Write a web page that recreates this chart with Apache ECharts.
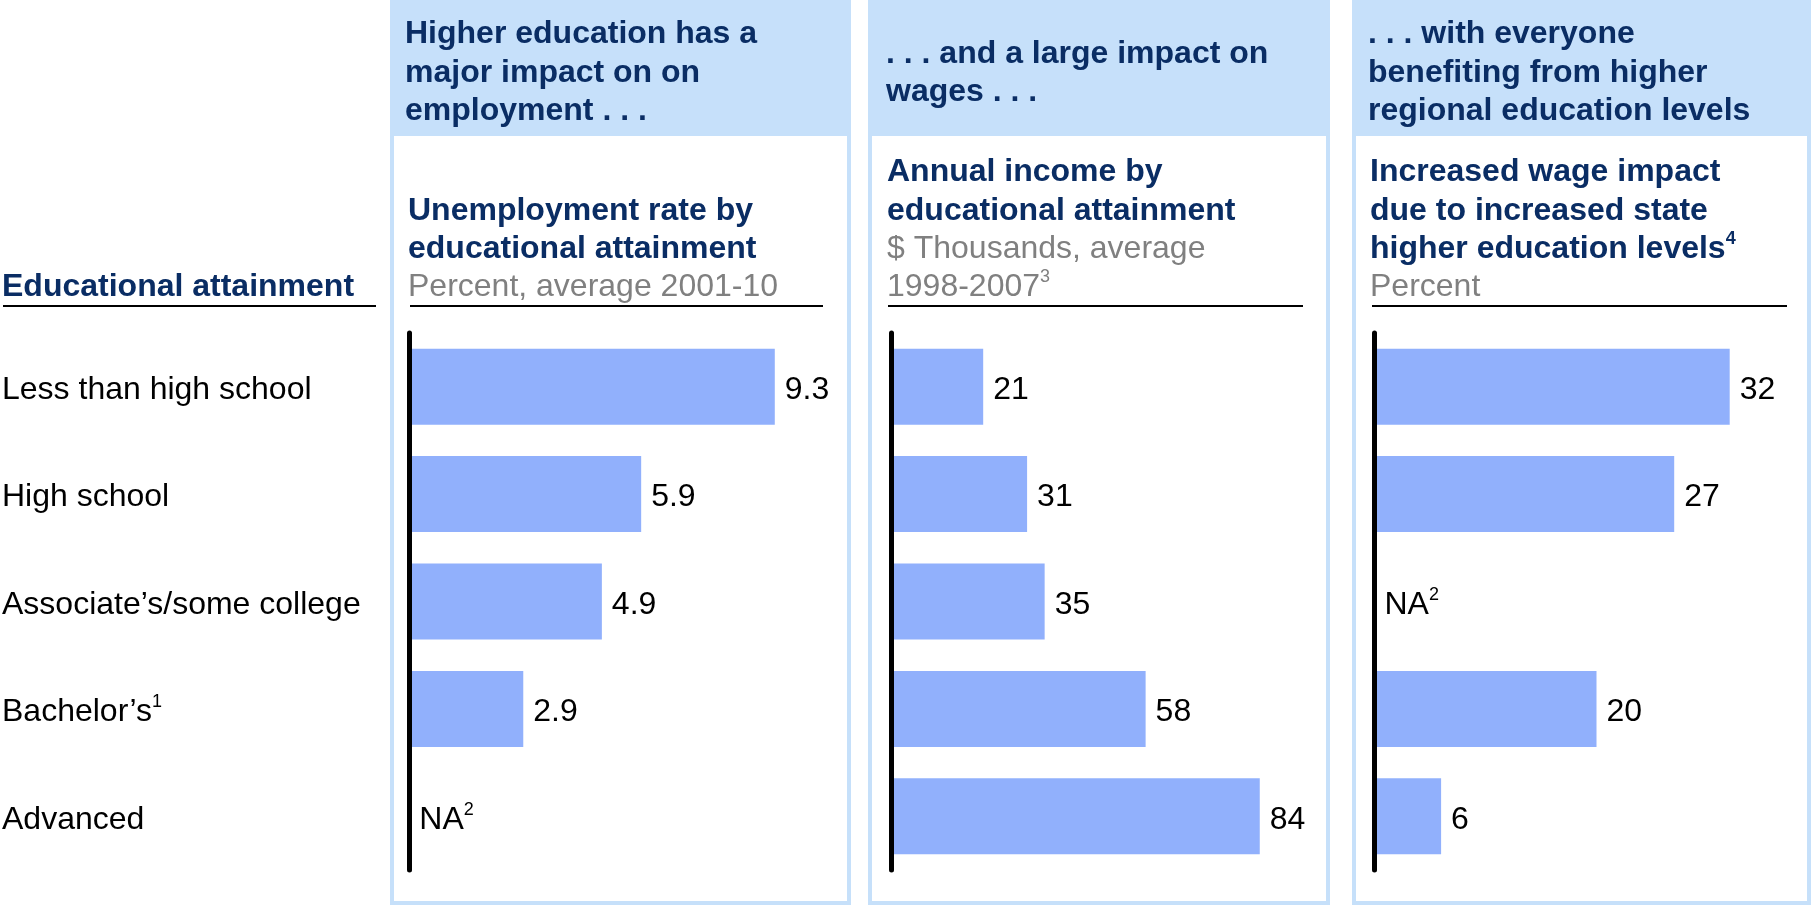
<!DOCTYPE html>
<html>
<head>
<meta charset="utf-8">
<title>Educational attainment</title>
<script src="https://cdn.jsdelivr.net/npm/echarts@6/dist/echarts.min.js"></script>
<style>
  html, body { margin: 0; padding: 0; background: #ffffff; }
  #chart { width: 1813px; height: 905px; }
</style>
</head>
<body>
<div id="chart"></div>
<script>
// ---- Data ----
const categories = ['Less than high school', 'High school', 'Associate\u2019s/some college', 'Bachelor\u2019s', 'Advanced'];
const categoryNotes = ['', '', '', '1', ''];
const unemploymentRate = [9.3, 5.9, 4.9, 2.9, null];   // percent, average 2001-10
const annualIncome = [21, 31, 35, 58, 84];             // $ thousands, average 1998-2007
const wageImpact = [32, 27, null, 20, 6];              // percent
const naNote = '2';

const rowHeader = 'Educational attainment';
const headlines = [
  ['Higher education has a', 'major impact on on', 'employment . . .'],
  ['. . . and a large impact on', 'wages . . .'],
  ['. . . with everyone', 'benefiting from higher', 'regional education levels']
];
const chartTitles = [
  { bold: ['Unemployment rate by', 'educational attainment'], unit: ['Percent, average 2001-10'], note: '', noteOn: 'unit' },
  { bold: ['Annual income by', 'educational attainment'], unit: ['$ Thousands, average', '1998-2007'], note: '3', noteOn: 'unit' },
  { bold: ['Increased wage impact', 'due to increased state', 'higher education levels'], unit: ['Percent'], note: '4', noteOn: 'bold' }
];

// ---- Styling / layout ----
const FONT = '"Liberation Sans", Arial, Helvetica, sans-serif';
const NAVY = '#0A2D64';
const GRAY = '#808080';
const BAR = '#91B0FC';
const PANEL = '#C6E0FA';
const FS = 32;
const LH = 38.4;
const SUP = 18;
const TEXT_DROP = 3.5;   // nudges 'middle'-anchored text onto the visual centre

const panels = [
  { x0: 390,  x1: 851,  axisX: 409.3,  width: 393, max: 10,  headX: 405,  subX: 408,  rule: [410, 823],   digits: 1, values: unemploymentRate },
  { x0: 868,  x1: 1330, axisX: 891,    width: 439, max: 100, headX: 886,  subX: 887,  rule: [888, 1303],  digits: 0, values: annualIncome },
  { x0: 1352, x1: 1811, axisX: 1374.5, width: 444, max: 40,  headX: 1368, subX: 1370, rule: [1372, 1787], digits: 0, values: wageImpact }
];

const GRID_TOP = 333;
const GRID_H = 537;
const RULE_Y = 306;

const supRichEC = { fontSize: SUP, lineHeight: 28, verticalAlign: 'top', color: '#000', fontFamily: FONT };
const labelPad = [TEXT_DROP * 2, 0, 0, 0];

// ---- Decorations: panel frames, headlines, chart titles, rules ----
const graphics = [];

graphics.push({
  type: 'text', x: 2, y: 284 + TEXT_DROP,
  style: { text: rowHeader, fontSize: FS, fontWeight: 'bold', fontFamily: FONT, fill: NAVY, verticalAlign: 'middle', align: 'left' }
});
graphics.push({
  type: 'line', shape: { x1: 3, y1: RULE_Y, x2: 376, y2: RULE_Y },
  style: { stroke: '#000', lineWidth: 2 }
});

panels.forEach((p, i) => {
  const w = p.x1 - p.x0;
  graphics.push({
    type: 'rect', z: 0,
    shape: { x: p.x0 + 2, y: 2, width: w - 4, height: 901 },
    style: { fill: '#ffffff', stroke: PANEL, lineWidth: 4 }
  });
  graphics.push({
    type: 'rect', z: 1,
    shape: { x: p.x0, y: 0, width: w, height: 136 },
    style: { fill: PANEL }
  });
  graphics.push({
    type: 'text', z: 2, x: p.headX, y: 69.4 + TEXT_DROP,
    style: {
      text: headlines[i].join('\n'),
      fontSize: FS, fontWeight: 'bold', fontFamily: FONT, fill: NAVY,
      lineHeight: LH, verticalAlign: 'middle', align: 'left'
    }
  });

  const t = chartTitles[i];
  const boldLines = t.bold.map(s => '{b|' + s + '}');
  const unitLines = t.unit.map(s => '{g|' + s + '}');
  if (t.note) {
    if (t.noteOn === 'bold') boldLines[boldLines.length - 1] += '{sb|' + t.note + '}';
    else unitLines[unitLines.length - 1] += '{sg|' + t.note + '}';
  }
  graphics.push({
    type: 'text', z: 2, x: p.subX, y: 303.2 + TEXT_DROP,
    style: {
      text: boldLines.concat(unitLines).join('\n'),
      verticalAlign: 'bottom', align: 'left',
      fontSize: FS, fontFamily: FONT, lineHeight: LH,
      rich: {
        b: { fontSize: FS, fontWeight: 'bold', fontFamily: FONT, fill: NAVY, lineHeight: LH },
        g: { fontSize: FS, fontFamily: FONT, fill: GRAY, lineHeight: LH },
        sb: { fontSize: SUP, fontWeight: 'bold', fontFamily: FONT, fill: NAVY, lineHeight: 28, verticalAlign: 'top' },
        sg: { fontSize: SUP, fontFamily: FONT, fill: GRAY, lineHeight: 28, verticalAlign: 'top' }
      }
    }
  });
  graphics.push({
    type: 'line', z: 2, shape: { x1: p.rule[0], y1: RULE_Y, x2: p.rule[1], y2: RULE_Y },
    style: { stroke: '#000', lineWidth: 2 }
  });
});

// ---- Chart ----
const chart = echarts.init(document.getElementById('chart'), null, { renderer: 'canvas' });

const option = {
  animation: false,
  backgroundColor: '#ffffff',
  graphic: { elements: graphics },
  grid: panels.map(p => ({
    left: p.axisX, width: p.width, top: GRID_TOP, height: GRID_H,
    containLabel: false, outerBoundsMode: 'none'
  })),
  xAxis: panels.map((p, i) => ({
    type: 'value', gridIndex: i, min: 0, max: p.max, show: false
  })),
  yAxis: panels.map((p, i) => ({
    type: 'category', gridIndex: i, data: categories, inverse: true, z: 5,
    axisLine: { show: true, onZero: false, lineStyle: { color: '#000', width: 5 } },
    axisTick: { show: false },
    splitLine: { show: false },
    axisLabel: i === 0 ? {
      show: true, interval: 0, align: 'left', margin: p.axisX - 2,
      fontSize: FS, lineHeight: LH, color: '#000', fontFamily: FONT,
      padding: labelPad,
      formatter: (v, idx) => categoryNotes[idx] ? v + '{sup|' + categoryNotes[idx] + '}' : v,
      rich: { sup: supRichEC }
    } : { show: false }
  })),
  series: panels.map((p, i) => ({
    type: 'bar', xAxisIndex: i, yAxisIndex: i, z: 2,
    barWidth: 76, silent: true,
    itemStyle: { color: BAR },
    data: p.values.map(v => (v == null ? 0 : v)),
    label: {
      show: true, position: 'right', distance: 10,
      fontSize: FS, lineHeight: LH, color: '#000', fontFamily: FONT,
      padding: labelPad,
      formatter: prm => {
        const raw = p.values[prm.dataIndex];
        return raw == null ? 'NA{sup|' + naNote + '}' : raw.toFixed(p.digits);
      },
      rich: { sup: supRichEC }
    }
  }))
};

chart.setOption(option);
</script>
</body>
</html>
